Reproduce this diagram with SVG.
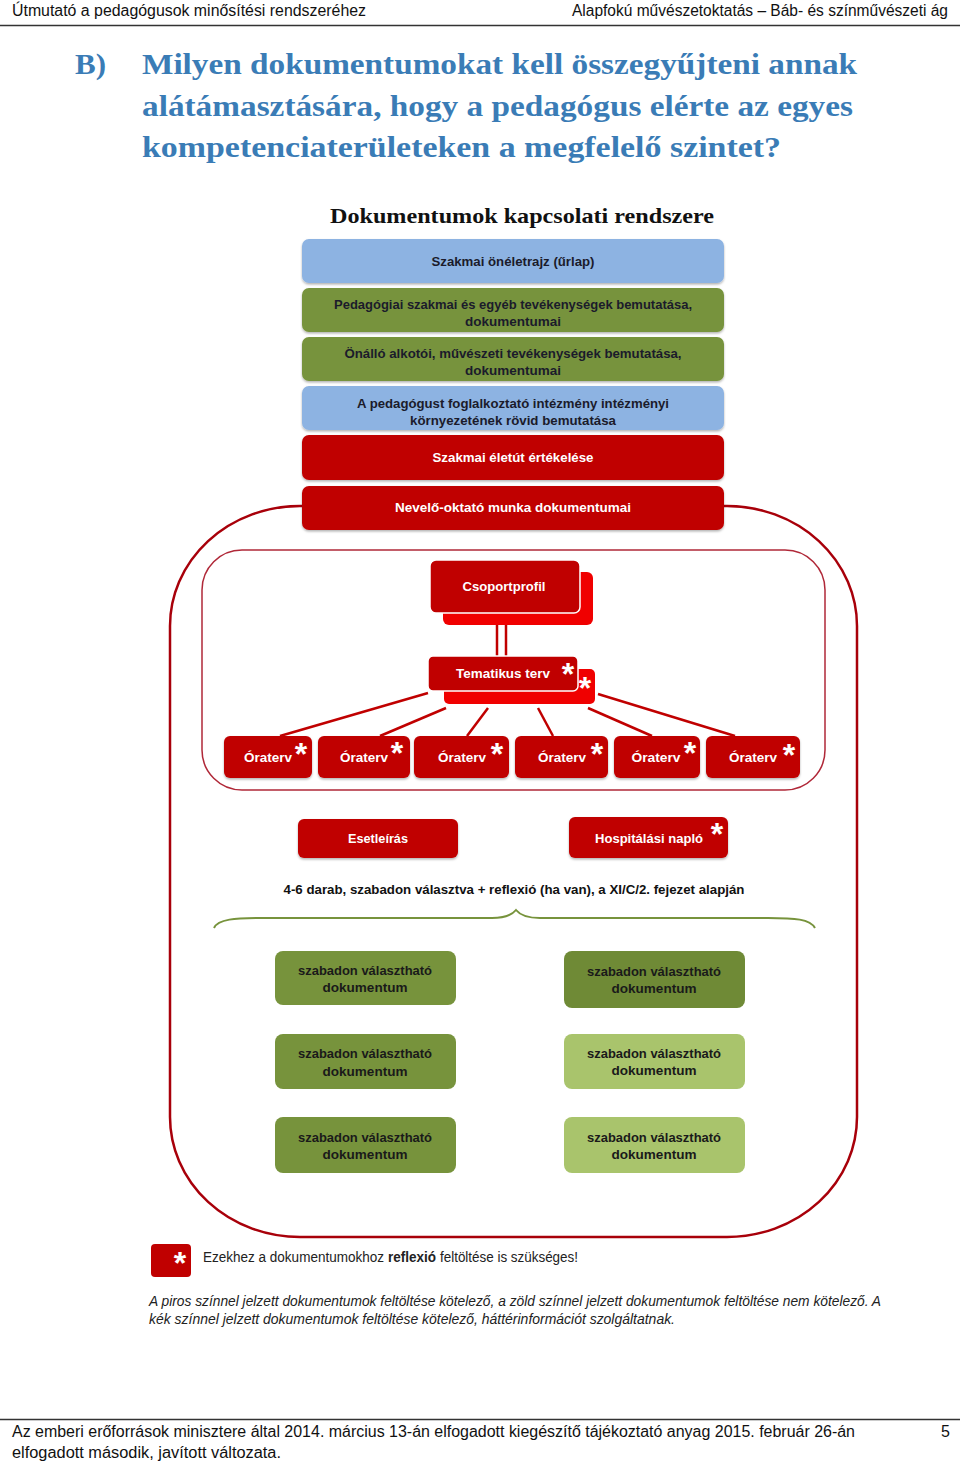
<svg xmlns="http://www.w3.org/2000/svg" width="960" height="1464" viewBox="0 0 960 1464">
<defs>
<style>
.hdr{font-family:"Liberation Sans",Arial,sans-serif;font-size:16px;fill:#111}
.ttl{font-family:"Liberation Serif","DejaVu Serif",serif;font-size:30px;font-weight:bold;fill:#3A7CB6}
.dt{font-family:"Liberation Serif",serif;font-size:22px;font-weight:bold;fill:#111}
.bx{font-family:"Liberation Sans",Arial,sans-serif;font-size:13px;font-weight:bold;text-anchor:middle}
.dk{fill:#1b1b2b}
.wh{fill:#fff}
.ast{font-family:"Liberation Sans",Arial,sans-serif;font-size:32px;font-weight:bold;fill:#fff;text-anchor:middle}
.blue{fill:#8DB3E2}
.green{fill:#77933C}
.lgreen{fill:#A9C46C}
.red{fill:#C00000}
.bred{fill:#F00000}
.conn{stroke:#C00000;stroke-width:2.5;fill:none}
.note{font-family:"Liberation Sans",Arial,sans-serif;font-size:14px;fill:#222}
</style>
<filter id="sh" x="-5%" y="-5%" width="110%" height="120%">
<feDropShadow dx="0" dy="1.5" stdDeviation="1" flood-color="#000" flood-opacity="0.3"/>
</filter>
</defs>
<rect width="960" height="1464" fill="#fff"/>

<g id="header">
<text class="hdr" x="12" y="16" textLength="354" lengthAdjust="spacingAndGlyphs">Útmutató a pedagógusok minősítési rendszeréhez</text>
<text class="hdr" x="572" y="16" textLength="376" lengthAdjust="spacingAndGlyphs">Alapfokú művészetoktatás – Báb- és színművészeti ág</text>
<line x1="0" y1="25.5" x2="960" y2="25.5" stroke="#333" stroke-width="1.5"/>
</g>

<g id="title">
<text class="ttl" x="75" y="74" textLength="31" lengthAdjust="spacingAndGlyphs">B)</text>
<text class="ttl" x="142" y="74" textLength="715" lengthAdjust="spacingAndGlyphs">Milyen dokumentumokat kell összegyűjteni annak</text>
<text class="ttl" x="142" y="116" textLength="711" lengthAdjust="spacingAndGlyphs">alátámasztására, hogy a pedagógus elérte az egyes</text>
<text class="ttl" x="142" y="157" textLength="639" lengthAdjust="spacingAndGlyphs">kompetenciaterületeken a megfelelő szintet?</text>
</g>

<g id="diagram-title">
<text class="dt" x="330" y="223" textLength="384" lengthAdjust="spacingAndGlyphs">Dokumentumok kapcsolati rendszere</text>
</g>

<g id="frames">
<rect x="170" y="506" width="687" height="731" rx="130" ry="120" fill="none" stroke="#A8000A" stroke-width="2.5"/>
<rect x="202" y="550" width="623" height="240" rx="40" ry="40" fill="none" stroke="#B02838" stroke-width="1.5"/>
</g>

<g id="connectors">
<line class="conn" x1="497" y1="625" x2="497" y2="656"/>
<line class="conn" x1="506" y1="625" x2="506" y2="656"/>
<line class="conn" x1="428" y1="693" x2="280" y2="736"/>
<line class="conn" x1="446" y1="708" x2="380" y2="736"/>
<line class="conn" x1="488" y1="708" x2="467" y2="736"/>
<line class="conn" x1="538" y1="708" x2="553" y2="736"/>
<line class="conn" x1="588" y1="708" x2="652" y2="736"/>
<line class="conn" x1="598" y1="694" x2="735" y2="736"/>
</g>

<g id="n-oneletrajz">
<rect class="blue" x="302" y="239" width="422" height="44" rx="7" filter="url(#sh)"/>
<text class="bx dk" x="513" y="266" textLength="163" lengthAdjust="spacingAndGlyphs">Szakmai önéletrajz (űrlap)</text>
</g>
<g id="n-pedagogiai">
<rect class="green" x="302" y="288" width="422" height="44" rx="7" filter="url(#sh)"/>
<text class="bx dk" x="513" y="309" textLength="358" lengthAdjust="spacingAndGlyphs">Pedagógiai szakmai és egyéb tevékenységek bemutatása,</text>
<text class="bx dk" x="513" y="326" textLength="96" lengthAdjust="spacingAndGlyphs">dokumentumai</text>
</g>
<g id="n-onallo">
<rect class="green" x="302" y="337" width="422" height="44" rx="7" filter="url(#sh)"/>
<text class="bx dk" x="513" y="358" textLength="337" lengthAdjust="spacingAndGlyphs">Önálló alkotói, művészeti tevékenységek bemutatása,</text>
<text class="bx dk" x="513" y="375" textLength="96" lengthAdjust="spacingAndGlyphs">dokumentumai</text>
</g>
<g id="n-intezmeny">
<rect class="blue" x="302" y="386" width="422" height="44" rx="7" filter="url(#sh)"/>
<text class="bx dk" x="513" y="408" textLength="312" lengthAdjust="spacingAndGlyphs">A pedagógust foglalkoztató intézmény intézményi</text>
<text class="bx dk" x="513" y="425" textLength="206" lengthAdjust="spacingAndGlyphs">környezetének rövid bemutatása</text>
</g>
<g id="n-eletut">
<rect class="red" x="302" y="435" width="422" height="45" rx="7" filter="url(#sh)"/>
<text class="bx wh" x="513" y="462" textLength="161" lengthAdjust="spacingAndGlyphs">Szakmai életút értékelése</text>
</g>
<g id="n-nevelo">
<rect class="red" x="302" y="486" width="422" height="44" rx="7" filter="url(#sh)"/>
<text class="bx wh" x="513" y="512" textLength="236" lengthAdjust="spacingAndGlyphs">Nevelő-oktató munka dokumentumai</text>
</g>

<g id="n-csoportprofil">
<rect class="bred" x="443" y="572" width="150" height="53" rx="6"/>
<rect class="red" x="430" y="560" width="150" height="53" rx="6" stroke="#fff" stroke-width="1.5"/>
<text class="bx wh" x="504" y="591" textLength="83" lengthAdjust="spacingAndGlyphs">Csoportprofil</text>
</g>

<g id="n-tematikus">
<rect class="bred" x="444" y="669" width="151" height="35" rx="5"/>
<text class="ast" x="585" y="699">*</text>
<rect class="red" x="428" y="656" width="150" height="35" rx="5" stroke="#fff" stroke-width="1.5"/>
<text class="bx wh" x="503" y="678" textLength="94" lengthAdjust="spacingAndGlyphs">Tematikus terv</text>
<text class="ast" x="568" y="685">*</text>
</g>

<g id="n-oraterv1">
<rect class="red" x="224" y="736" width="88" height="42" rx="6" filter="url(#sh)"/>
<text class="bx wh" x="268" y="762" textLength="48" lengthAdjust="spacingAndGlyphs">Óraterv</text>
<text class="ast" x="301" y="765">*</text>
</g>
<g id="n-oraterv2">
<rect class="red" x="318" y="736" width="92" height="42" rx="6" filter="url(#sh)"/>
<text class="bx wh" x="364" y="762" textLength="48" lengthAdjust="spacingAndGlyphs">Óraterv</text>
<text class="ast" x="397" y="764">*</text>
</g>
<g id="n-oraterv3">
<rect class="red" x="414" y="736" width="95" height="42" rx="6" filter="url(#sh)"/>
<text class="bx wh" x="462" y="762" textLength="48" lengthAdjust="spacingAndGlyphs">Óraterv</text>
<text class="ast" x="497" y="765">*</text>
</g>
<g id="n-oraterv4">
<rect class="red" x="515" y="736" width="93" height="42" rx="6" filter="url(#sh)"/>
<text class="bx wh" x="562" y="762" textLength="48" lengthAdjust="spacingAndGlyphs">Óraterv</text>
<text class="ast" x="597" y="765">*</text>
</g>
<g id="n-oraterv5">
<rect class="red" x="614" y="736" width="86" height="42" rx="6" filter="url(#sh)"/>
<text class="bx wh" x="656" y="762" textLength="49" lengthAdjust="spacingAndGlyphs">Óraterv</text>
<text class="ast" x="690" y="764">*</text>
</g>
<g id="n-oraterv6">
<rect class="red" x="706" y="736" width="94" height="42" rx="6" filter="url(#sh)"/>
<text class="bx wh" x="753" y="762" textLength="48" lengthAdjust="spacingAndGlyphs">Óraterv</text>
<text class="ast" x="789" y="766">*</text>
</g>

<g id="n-esetleiras">
<rect class="red" x="298" y="819" width="160" height="39" rx="6" filter="url(#sh)"/>
<text class="bx wh" x="378" y="843" textLength="60" lengthAdjust="spacingAndGlyphs">Esetleírás</text>
</g>
<g id="n-hospitalasi">
<rect class="red" x="569" y="817" width="159" height="41" rx="6" filter="url(#sh)"/>
<text class="bx wh" x="649" y="843" textLength="108" lengthAdjust="spacingAndGlyphs">Hospitálási napló</text>
<text class="ast" x="717" y="845">*</text>
</g>

<g id="n-note">
<text class="bx" x="514" y="894" fill="#111" textLength="461" lengthAdjust="spacingAndGlyphs">4-6 darab, szabadon választva + reflexió (ha van), a XI/C/2. fejezet alapján</text>
<path d="M214,928 C218,919 235,918 262,918 L492,918 C506,918 512,915 516,910 C520,915 526,918 540,918 L768,918 C795,918 810,919 815,928" fill="none" stroke="#77933C" stroke-width="2"/>
</g>

<g id="n-szab1">
<rect class="green" x="275" y="951" width="181" height="54" rx="8"/>
<text class="bx" x="365" y="975" fill="#1a1a1a" textLength="134" lengthAdjust="spacingAndGlyphs">szabadon választható</text>
<text class="bx" x="365" y="992" fill="#1a1a1a" textLength="85" lengthAdjust="spacingAndGlyphs">dokumentum</text>
</g>
<g id="n-szab2">
<rect x="564" y="951" width="181" height="57" rx="8" fill="#6F8A36"/>
<text class="bx" x="654" y="976" fill="#1a1a1a" textLength="134" lengthAdjust="spacingAndGlyphs">szabadon választható</text>
<text class="bx" x="654" y="993" fill="#1a1a1a" textLength="85" lengthAdjust="spacingAndGlyphs">dokumentum</text>
</g>
<g id="n-szab3">
<rect class="green" x="275" y="1034" width="181" height="55" rx="8"/>
<text class="bx" x="365" y="1058" fill="#1a1a1a" textLength="134" lengthAdjust="spacingAndGlyphs">szabadon választható</text>
<text class="bx" x="365" y="1076" fill="#1a1a1a" textLength="85" lengthAdjust="spacingAndGlyphs">dokumentum</text>
</g>
<g id="n-szab4">
<rect class="lgreen" x="564" y="1034" width="181" height="55" rx="8"/>
<text class="bx" x="654" y="1058" fill="#1a1a1a" textLength="134" lengthAdjust="spacingAndGlyphs">szabadon választható</text>
<text class="bx" x="654" y="1075" fill="#1a1a1a" textLength="85" lengthAdjust="spacingAndGlyphs">dokumentum</text>
</g>
<g id="n-szab5">
<rect class="green" x="275" y="1117" width="181" height="56" rx="8"/>
<text class="bx" x="365" y="1142" fill="#1a1a1a" textLength="134" lengthAdjust="spacingAndGlyphs">szabadon választható</text>
<text class="bx" x="365" y="1159" fill="#1a1a1a" textLength="85" lengthAdjust="spacingAndGlyphs">dokumentum</text>
</g>
<g id="n-szab6">
<rect class="lgreen" x="564" y="1117" width="181" height="56" rx="8"/>
<text class="bx" x="654" y="1142" fill="#1a1a1a" textLength="134" lengthAdjust="spacingAndGlyphs">szabadon választható</text>
<text class="bx" x="654" y="1159" fill="#1a1a1a" textLength="85" lengthAdjust="spacingAndGlyphs">dokumentum</text>
</g>

<g id="legend">
<rect class="red" x="151" y="1244" width="40" height="33" rx="4"/>
<text class="ast" x="180" y="1274">*</text>
<text class="note" x="203" y="1262" textLength="181" lengthAdjust="spacingAndGlyphs">Ezekhez a dokumentumokhoz</text>
<text class="note" x="388" y="1262" font-weight="bold" textLength="48" lengthAdjust="spacingAndGlyphs">reflexió</text>
<text class="note" x="440" y="1262" textLength="138" lengthAdjust="spacingAndGlyphs">feltöltése is szükséges!</text>
<text class="note" x="149" y="1306" font-style="italic" textLength="732" lengthAdjust="spacingAndGlyphs">A piros színnel jelzett dokumentumok feltöltése kötelező, a zöld színnel jelzett dokumentumok feltöltése nem kötelező. A</text>
<text class="note" x="149" y="1324" font-style="italic" textLength="526" lengthAdjust="spacingAndGlyphs">kék színnel jelzett dokumentumok feltöltése kötelező, háttérinformációt szolgáltatnak.</text>
</g>

<g id="footer">
<line x1="0" y1="1419.5" x2="960" y2="1419.5" stroke="#333" stroke-width="1.5"/>
<text class="hdr" x="12" y="1437" textLength="843" lengthAdjust="spacingAndGlyphs">Az emberi erőforrások minisztere által 2014. március 13-án elfogadott kiegészítő tájékoztató anyag 2015. február 26-án</text>
<text class="hdr" x="941" y="1437">5</text>
<text class="hdr" x="12" y="1458" textLength="269" lengthAdjust="spacingAndGlyphs">elfogadott második, javított változata.</text>
</g>
</svg>
